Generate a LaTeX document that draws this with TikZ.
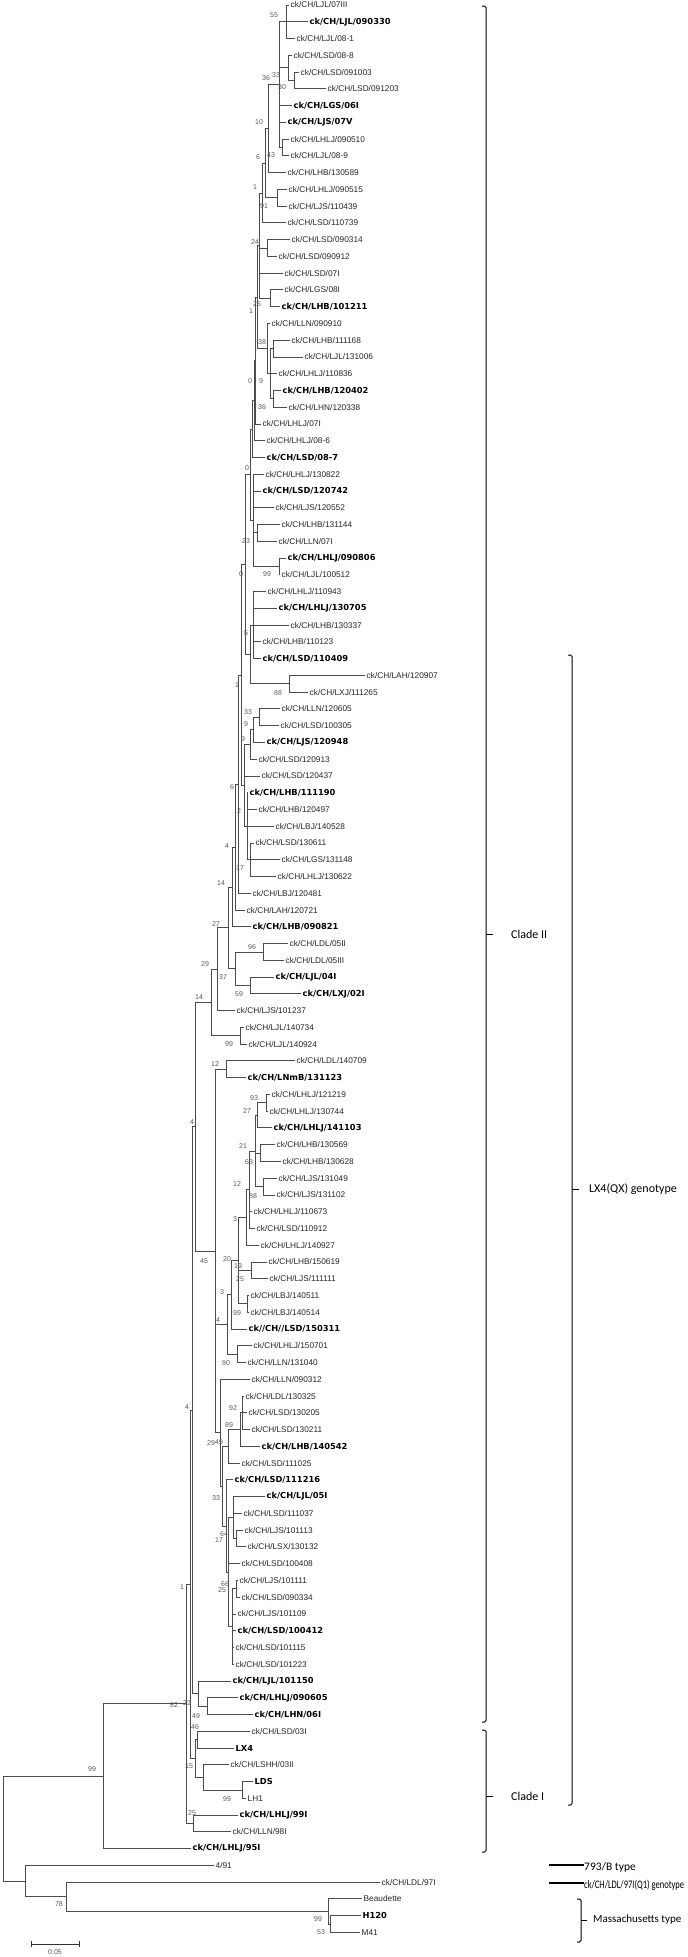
\documentclass[tikz,border=0pt]{standalone}
\usepackage{fontspec}
\usepackage{graphicx}
\setmainfont{Liberation Sans}
\newfontfamily\bfam{DejaVu Sans}
\newfontfamily\cfam{Carlito}
\usetikzlibrary{calc}
\tikzset{
  br/.style={draw=black!70, line width=0.9pt, line cap=rect},
  lab/.style={font=\fontsize{8.3}{9}\selectfont, text=black!85, inner sep=1.5pt, anchor=west},
  labb/.style={font=\bfam\bfseries\fontsize{8.3}{9}\selectfont, text=black, inner sep=1.5pt, anchor=west},
  bs/.style={font=\fontsize{7}{8}\selectfont, text=black!65, inner sep=0pt},
  ctext/.style={font=\cfam\fontsize{12}{14}\selectfont, anchor=west, inner sep=0pt},
  brk/.style={draw=black, line width=1pt, rounded corners=1.5pt}
}
\newcommand\Lf[4]{\coordinate (#1) at (#3,{5+(#2-1)*16.76});\node[lab] (#1t) at (#1) {#4};}
\newcommand\Lb[4]{\coordinate (#1) at (#3,{5+(#2-1)*16.76});\node[labb] (#1t) at (#1) {#4};}
\newcommand\Nd[5]{%
  \coordinate (tmpa) at ($(#3)!0.5!(#4)$);%
  \coordinate (#1) at (#2,0 |- tmpa);%
  \draw[br] (#1 |- #3) -- (#1 |- #4);%
  \foreach \cc in {#5} {\draw[br] (#1 |- \cc) -- (\cc);}%
}
\newcommand\Bs[3]{\node[bs] (bs-#1-#2) at (#1,#2) {#3};}
\begin{document}
\begin{tikzpicture}[x=1pt,y=-1pt]
\fill[white] (0,0) rectangle (688,1957);
\useasboundingbox (0,0) rectangle (688,1957);
% leaves
\Lf{L1}{1}{289}{ck/CH/LJL/07III}
\Lb{L2}{2}{308}{ck/CH/LJL/090330}
\Lf{L3}{3}{295}{ck/CH/LJL/08-1}
\Lf{L4}{4}{292}{ck/CH/LSD/08-8}
\Lf{L5}{5}{299}{ck/CH/LSD/091003}
\Lf{L6}{6}{326}{ck/CH/LSD/091203}
\Lb{L7}{7}{292}{ck/CH/LGS/06I}
\Lb{L8}{8}{286}{ck/CH/LJS/07V}
\Lf{L9}{9}{289}{ck/CH/LHLJ/090510}
\Lf{L10}{10}{289}{ck/CH/LJL/08-9}
\Lf{L11}{11}{286}{ck/CH/LHB/130589}
\Lf{L12}{12}{287}{ck/CH/LHLJ/090515}
\Lf{L13}{13}{287}{ck/CH/LJS/110439}
\Lf{L14}{14}{286}{ck/CH/LSD/110739}
\Lf{L15}{15}{290}{ck/CH/LSD/090314}
\Lf{L16}{16}{277}{ck/CH/LSD/090912}
\Lf{L17}{17}{283}{ck/CH/LSD/07I}
\Lf{L18}{18}{283}{ck/CH/LGS/08I}
\Lb{L19}{19}{280}{ck/CH/LHB/101211}
\Lf{L20}{20}{270}{ck/CH/LLN/090910}
\Lf{L21}{21}{290}{ck/CH/LHB/111168}
\Lf{L22}{22}{303}{ck/CH/LJL/131006}
\Lf{L23}{23}{277}{ck/CH/LHLJ/110836}
\Lb{L24}{24}{281}{ck/CH/LHB/120402}
\Lf{L25}{25}{287}{ck/CH/LHN/120338}
\Lf{L26}{26}{261}{ck/CH/LHLJ/07I}
\Lf{L27}{27}{265}{ck/CH/LHLJ/08-6}
\Lb{L28}{28}{265}{ck/CH/LSD/08-7}
\Lf{L29}{29}{264}{ck/CH/LHLJ/130822}
\Lb{L30}{30}{261}{ck/CH/LSD/120742}
\Lf{L31}{31}{274}{ck/CH/LJS/120552}
\Lf{L32}{32}{280}{ck/CH/LHB/131144}
\Lf{L33}{33}{277}{ck/CH/LLN/07I}
\Lb{L34}{34}{286}{ck/CH/LHLJ/090806}
\Lf{L35}{35}{280}{ck/CH/LJL/100512}
\Lf{L36}{36}{266}{ck/CH/LHLJ/110943}
\Lb{L37}{37}{277}{ck/CH/LHLJ/130705}
\Lf{L38}{38}{289}{ck/CH/LHB/130337}
\Lf{L39}{39}{261}{ck/CH/LHB/110123}
\Lb{L40}{40}{261}{ck/CH/LSD/110409}
\Lf{L41}{41}{365}{ck/CH/LAH/120907}
\Lf{L42}{42}{308}{ck/CH/LXJ/111265}
\Lf{L43}{43}{280}{ck/CH/LLN/120605}
\Lf{L44}{44}{279}{ck/CH/LSD/100305}
\Lb{L45}{45}{265}{ck/CH/LJS/120948}
\Lf{L46}{46}{257}{ck/CH/LSD/120913}
\Lf{L47}{47}{260}{ck/CH/LSD/120437}
\Lb{L48}{48}{248}{ck/CH/LHB/111190}
\Lf{L49}{49}{257}{ck/CH/LHB/120497}
\Lf{L50}{50}{274}{ck/CH/LBJ/140528}
\Lf{L51}{51}{254}{ck/CH/LSD/130611}
\Lf{L52}{52}{280}{ck/CH/LGS/131148}
\Lf{L53}{53}{276}{ck/CH/LHLJ/130622}
\Lf{L54}{54}{251}{ck/CH/LBJ/120481}
\Lf{L55}{55}{245}{ck/CH/LAH/120721}
\Lb{L56}{56}{251}{ck/CH/LHB/090821}
\Lf{L57}{57}{288}{ck/CH/LDL/05II}
\Lf{L58}{58}{284}{ck/CH/LDL/05III}
\Lb{L59}{59}{274}{ck/CH/LJL/04I}
\Lb{L60}{60}{301}{ck/CH/LXJ/02I}
\Lf{L61}{61}{235}{ck/CH/LJS/101237}
\Lf{L62}{62}{244}{ck/CH/LJL/140734}
\Lf{L63}{63}{247}{ck/CH/LJL/140924}
\Lf{L64}{64}{295}{ck/CH/LDL/140709}
\Lb{L65}{65}{246}{ck/CH/LNmB/131123}
\Lf{L66}{66}{270}{ck/CH/LHLJ/121219}
\Lf{L67}{67}{268}{ck/CH/LHLJ/130744}
\Lb{L68}{68}{272}{ck/CH/LHLJ/141103}
\Lf{L69}{69}{275}{ck/CH/LHB/130569}
\Lf{L70}{70}{281}{ck/CH/LHB/130628}
\Lf{L71}{71}{277}{ck/CH/LJS/131049}
\Lf{L72}{72}{275}{ck/CH/LJS/131102}
\Lf{L73}{73}{252}{ck/CH/LHLJ/110673}
\Lf{L74}{74}{255}{ck/CH/LSD/110912}
\Lf{L75}{75}{259}{ck/CH/LHLJ/140927}
\Lf{L76}{76}{267}{ck/CH/LHB/150619}
\Lf{L77}{77}{268}{ck/CH/LJS/111111}
\Lf{L78}{78}{249}{ck/CH/LBJ/140511}
\Lf{L79}{79}{249}{ck/CH/LBJ/140514}
\Lb{L80}{80}{247}{ck//CH//LSD/150311}
\Lf{L81}{81}{252}{ck/CH/LHLJ/150701}
\Lf{L82}{82}{246}{ck/CH/LLN/131040}
\Lf{L83}{83}{250}{ck/CH/LLN/090312}
\Lf{L84}{84}{244}{ck/CH/LDL/130325}
\Lf{L85}{85}{247}{ck/CH/LSD/130205}
\Lf{L86}{86}{250}{ck/CH/LSD/130211}
\Lb{L87}{87}{260}{ck/CH/LHB/140542}
\Lf{L88}{88}{240}{ck/CH/LSD/111025}
\Lb{L89}{89}{233}{ck/CH/LSD/111216}
\Lb{L90}{90}{265}{ck/CH/LJL/05I}
\Lf{L91}{91}{242}{ck/CH/LSD/111037}
\Lf{L92}{92}{243}{ck/CH/LJS/101113}
\Lf{L93}{93}{246}{ck/CH/LSX/130132}
\Lf{L94}{94}{240}{ck/CH/LSD/100408}
\Lf{L95}{95}{238}{ck/CH/LJS/101111}
\Lf{L96}{96}{240}{ck/CH/LSD/090334}
\Lf{L97}{97}{236}{ck/CH/LJS/101109}
\Lb{L98}{98}{236}{ck/CH/LSD/100412}
\Lf{L99}{99}{234}{ck/CH/LSD/101115}
\Lf{L100}{100}{234}{ck/CH/LSD/101223}
\Lb{L101}{101}{231}{ck/CH/LJL/101150}
\Lb{L102}{102}{238}{ck/CH/LHLJ/090605}
\Lb{L103}{103}{253}{ck/CH/LHN/06I}
\Lf{L104}{104}{250}{ck/CH/LSD/03I}
\Lb{L105}{105}{234}{LX4}
\Lf{L106}{106}{229}{ck/CH/LSHH/03II}
\Lb{L107}{107}{253}{LDS}
\Lf{L108}{108}{246}{LH1}
\Lb{L109}{109}{238}{ck/CH/LHLJ/99I}
\Lf{L110}{110}{231}{ck/CH/LLN/98I}
\Lb{L111}{111}{191}{ck/CH/LHLJ/95I}
\Lf{L112}{112}{214}{4/91}
\Lf{L113}{113}{380}{ck/CH/LDL/97I}
\Lf{L114}{114}{362}{Beaudette}
\Lb{L115}{115}{361}{H120}
\Lf{L116}{116}{360}{M41}
% internal nodes
\Nd{nA1}{286}{L1}{L3}{L1,L3}
\Nd{nA2}{279}{nA1}{L2}{nA1,L2}
\Nd{nA3b}{294}{L5}{L6}{L5,L6}
\Nd{nA3}{288}{L4}{nA3b}{L4,nA3b}
\Nd{nA4}{282}{L9}{L10}{L9,L10}
\Nd{nB}{279}{nA2}{nA4}{nA2,nA3,L7,L8,nA4}
\Nd{nC}{268}{nB}{L11}{nB,L11}
\Nd{nD}{277}{L12}{L13}{L12,L13}
\Nd{nE}{265}{nC}{nD}{nC,nD}
\Nd{nF}{262}{nE}{L14}{nE,L14}
\Nd{nG}{267}{L15}{L16}{L15,L16}
\Nd{nH}{270}{L18}{L19}{L18,L19}
\Nd{nI}{259}{nF}{nH}{nF,nG,L17,nH}
\Nd{nJ}{273}{L21}{L22}{L21,L22}
\Nd{nK}{273}{L24}{L25}{L24,L25}
\Nd{nL}{270}{nJ}{nK}{nJ,L23,nK}
\Nd{nM}{267}{L20}{nL}{L20,nL}
\Nd{nN}{257}{nI}{nM}{nI,nM}
\Nd{nO}{255}{nN}{L26}{nN,L26}
\Nd{nO2}{254}{nO}{L27}{nO,L27}
\Nd{nP}{252}{nO2}{L28}{nO2,L28}
\Nd{nR}{257}{L32}{L33}{L32,L33}
\Nd{nS}{279}{L34}{L35}{L34,L35}
\Nd{nT}{253}{L29}{nS}{L29,L30,L31,nR,nS}
\Nd{nU}{250}{nP}{nT}{nP,nT}
\Nd{nV}{253}{L36}{L40}{L36,L37,L38,L39,L40}
\Nd{nW}{289}{L41}{L42}{L41,L42}
\Nd{nX}{250}{nV}{nW}{nV,nW}
\Nd{nY}{245}{nU}{nX}{nU,nX}
\Nd{n1}{259}{L43}{L44}{L43,L44}
\Nd{n2}{253}{n1}{L45}{n1,L45}
\Nd{n3}{250}{n2}{L46}{n2,L46}
\Nd{n4}{250}{L51}{L53}{L51,L52,L53}
\Nd{n5}{247}{L48}{n4}{L48,L49,L50,n4}
\Nd{n6}{244}{n3}{n5}{n3,L47,n5}
\Nd{nZ}{241}{nY}{n6}{nY,n6}
\Nd{n7}{238}{nZ}{L54}{nZ,L54}
\Nd{n8}{235}{n7}{L55}{n7,L55}
\Nd{n9}{232}{n8}{L56}{n8,L56}
\Nd{n10}{263}{L57}{L58}{L57,L58}
\Nd{n11}{250}{L59}{L60}{L59,L60}
\Nd{n12}{235}{n10}{n11}{n10,n11}
\Nd{n13}{228}{n9}{n12}{n9,n12}
\Nd{n14}{217}{n13}{L61}{n13,L61}
\Nd{n15}{240}{L62}{L63}{L62,L63}
\Nd{n16}{211}{n14}{n15}{n14,n15}
\Nd{n17}{226}{L64}{L65}{L64,L65}
\Nd{n18}{266}{L66}{L67}{L66,L67}
\Nd{n19}{257}{n18}{L68}{n18,L68}
\Nd{n20}{260}{L69}{L70}{L69,L70}
\Nd{n21}{263}{L71}{L72}{L71,L72}
\Nd{n22}{255}{n19}{n21}{n19,n20,n21}
\Nd{n23}{249}{n22}{L74}{n22,L73,L74}
\Nd{n25}{246}{n23}{L75}{n23,L75}
\Nd{n24}{251}{L76}{L77}{L76,L77}
\Nd{n26}{247}{L78}{L79}{L78,L79}
\Nd{n27}{238}{n25}{n26}{n25,n24,n26}
\Nd{n28}{231}{n27}{L80}{n27,L80}
\Nd{n29}{237}{L81}{L82}{L81,L82}
\Nd{n30}{227}{n28}{n29}{n28,n29}
\Nd{n31}{242}{L84}{L86}{L84,L85,L86}
\Nd{n32}{240}{n31}{L87}{n31,L87}
\Nd{n33}{228}{n32}{L88}{n32,L88}
\Nd{n36}{236}{L92}{L93}{L92,L93}
\Nd{n35}{233}{L90}{n36}{L90,L91,n36}
\Nd{n37}{236}{L95}{L96}{L95,L96}
\Nd{n38}{232}{n37}{L100}{n37,L97,L98,L99,L100}
\Nd{n40}{228}{n35}{n38}{n35,L94,n38}
\Nd{n41}{226}{L89}{n40}{L89,n40}
\Nd{n42}{222}{n33}{n41}{n33,n41}
\Nd{n44}{220}{L83}{n42}{L83,n42}
\Nd{n45}{215}{n17}{n44}{n17,n30,n44}
\Nd{n46}{195}{n16}{n45}{n16,n45}
\Nd{n49}{207}{L102}{L103}{L102,L103}
\Nd{n50}{198}{L101}{n49}{L101,n49}
\Nd{n47}{192}{n46}{n50}{n46,n50}
\Nd{n58}{197}{L104}{L105}{L104,L105}
\Nd{n56}{242}{L107}{L108}{L107,L108}
\Nd{n55}{203}{L106}{n56}{L106,n56}
\Nd{n59}{195}{n58}{n55}{n58,n55}
\Nd{n51}{190}{n47}{n59}{n47,n59}
\Nd{n57}{193}{L109}{L110}{L109,L110}
\Nd{n52}{186}{n51}{n57}{n51,n57}
\Nd{n53}{103}{n52}{L111}{n52,L111}
\Nd{n64}{330}{L115}{L116}{L115,L116}
\Nd{n63}{328}{L114}{n64}{L114,n64}
\Nd{n62}{66}{L113}{n63}{L113,n63}
\Nd{n61}{25}{L112}{n62}{L112,n62}
\Nd{root}{3}{n53}{n61}{n53,n61}
% bootstrap values
\Bs{274}{15}{55}\Bs{266}{78}{36}\Bs{276}{75}{33}\Bs{282}{87}{30}
\Bs{259}{122}{10}\Bs{258}{157}{6}\Bs{271}{155}{43}\Bs{255}{187}{1}
\Bs{264}{206}{91}\Bs{255}{242}{24}\Bs{257}{304}{26}\Bs{251}{311}{1}
\Bs{262}{342}{38}\Bs{250}{381}{0}\Bs{261}{381}{9}\Bs{262}{407}{36}
\Bs{247}{468}{0}\Bs{246}{541}{23}\Bs{267}{574}{99}\Bs{241}{574}{0}
\Bs{246}{633}{5}\Bs{237}{685}{1}\Bs{278}{693}{88}\Bs{248}{712}{33}
\Bs{246}{724}{9}\Bs{243}{739}{9}\Bs{232}{787}{6}\Bs{239}{811}{2}
\Bs{227}{846}{4}\Bs{240}{868}{17}\Bs{221}{883}{14}\Bs{216}{924}{27}
\Bs{252}{947}{96}\Bs{205}{964}{29}\Bs{223}{977}{37}\Bs{239}{994}{59}
\Bs{199}{997}{14}\Bs{229}{1044}{99}\Bs{215}{1064}{12}\Bs{254}{1098}{93}
\Bs{247}{1111}{27}\Bs{192}{1122}{4}\Bs{243}{1146}{21}\Bs{249}{1162}{63}
\Bs{237}{1184}{12}\Bs{253}{1196}{88}\Bs{235}{1219}{3}\Bs{204}{1261}{45}
\Bs{227}{1259}{20}\Bs{238}{1266}{19}\Bs{240}{1279}{25}\Bs{222}{1292}{3}
\Bs{237}{1313}{99}\Bs{218}{1320}{4}\Bs{226}{1363}{90}\Bs{187}{1407}{4}
\Bs{233}{1408}{92}\Bs{229}{1425}{89}\Bs{211}{1443}{29}\Bs{219}{1442}{49}
\Bs{216}{1498}{33}\Bs{224}{1534}{64}\Bs{219}{1540}{17}\Bs{182}{1587}{1}
\Bs{225}{1584}{66}\Bs{222}{1590}{25}\Bs{174}{1705}{82}\Bs{187}{1703}{22}
\Bs{196}{1716}{49}\Bs{195}{1727}{46}\Bs{92}{1769}{99}\Bs{189}{1766}{15}
\Bs{227}{1799}{99}\Bs{192}{1813}{25}\Bs{59}{1904}{78}\Bs{318}{1919}{99}
\Bs{321}{1932}{53}
% scale bar
\coordinate (sb1) at (31,1944);
\coordinate (sb2) at (79,1944);
\draw[draw=black!80, line width=0.9pt] (sb1) -- (sb2);
\draw[draw=black!80, line width=0.9pt] ([yshift=3pt]sb1) -- ([yshift=-3pt]sb1);
\draw[draw=black!80, line width=0.9pt] ([yshift=3pt]sb2) -- ([yshift=-3pt]sb2);
\node[bs] (sbt) at (55,1952) {0.05};
% brackets and group labels
\draw[brk] (482,6) -- (486,6) -- (486,1722) -- (482,1722);
\draw[brk] (486,934) -- (493,934);
\node[ctext] (c2) at (511,934) {Clade II};
\draw[brk] (568,655) -- (572,655) -- (572,1805) -- (568,1805);
\draw[brk] (572,1189) -- (579,1189);
\node[ctext] (lx) at (589,1189) {LX4(QX) genotype};
\draw[brk] (482,1730) -- (486,1730) -- (486,1852) -- (482,1852);
\draw[brk] (486,1796) -- (493,1796);
\node[ctext] (c1) at (511,1796) {Clade I};
\node[ctext, font=\cfam\fontsize{11.5}{13}\selectfont] (b7) at (584,1867) {793/B type};
\coordinate (b7s) at (549,1865);
\draw[line width=1.5pt] (b7s) -- (b7.west |- b7s);
\node[ctext, font=\cfam\fontsize{11.5}{13}\selectfont] (q1) at (584,1885) {\scalebox{0.74}[1]{ck/CH/LDL/97I(Q1) genotype}};
\coordinate (q1s) at (549,1883);
\draw[line width=1.5pt] (q1s) -- (q1.west |- q1s);
\draw[brk] (577,1899) -- (581,1899) -- (581,1942) -- (577,1942);
\draw[brk] (581,1920) -- (587,1920);
\node[ctext, font=\cfam\fontsize{11}{13}\selectfont] (ms) at (593,1920) {Massachusetts type};
\end{tikzpicture}
\end{document}
